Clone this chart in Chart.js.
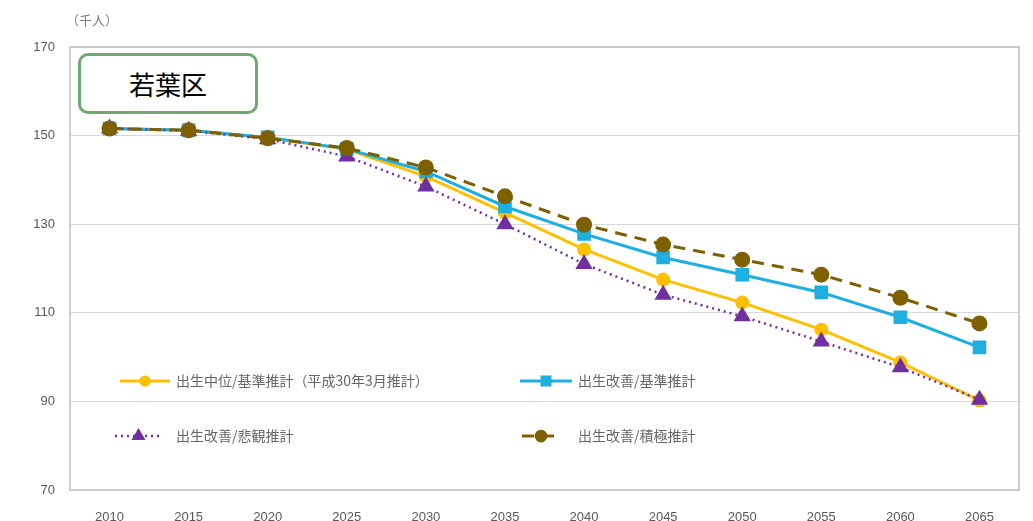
<!DOCTYPE html>
<html>
<head>
<meta charset="utf-8">
<title>若葉区</title>
<style>
body { margin: 0; padding: 0; background: #fff; }
#wrap { position: relative; width: 1033px; height: 521px; }
#unit { position: absolute; left: 66px; top: 10px; font: 13px "Noto Sans CJK JP", sans-serif; color: #7f7f7f; }
#ward { position: absolute; left: 78px; top: 53px; width: 174px; height: 55px; border: 3px solid #72a672; border-radius: 10px;
	font: 26px "Noto Sans CJK JP", sans-serif; color: #000; text-align: center; line-height: 55px; background: #fff; z-index: 2; }
</style>
<script src="https://cdn.jsdelivr.net/npm/chart.js@4.4.0/dist/chart.umd.min.js"></script>
</head>
<body>
<div id="wrap">
	<canvas id="c" width="1033" height="521"></canvas>
	<div id="unit">（千人）</div>
	<div id="ward">若葉区</div>
</div>
<script>
var years = ['2010','2015','2020','2025','2030','2035','2040','2045','2050','2055','2060','2065'];
var labels = ['出生中位/基準推計（平成30年3月推計）', '出生改善/基準推計', '出生改善/悲観推計', '出生改善/積極推計'];
var baseMid = [151.6, 151.2, 149.5, 146.9, 140.8, 132.6, 124.3, 117.5, 112.3, 106.2, 98.8, 90.2];
var improvedBase = [151.6, 151.2, 149.6, 147.0, 141.9, 134.0, 127.8, 122.5, 118.6, 114.6, 109.0, 102.2];
var improvedLow = [151.6, 151.1, 149.2, 145.3, 138.5, 130.0, 121.0, 114.1, 109.2, 103.5, 97.7, 90.4];
var improvedHigh = [151.6, 151.2, 149.4, 147.2, 142.8, 136.3, 129.9, 125.4, 122.0, 118.6, 113.4, 107.6];

// legend drawn inside the plot, two rows
var legendPlugin = {
	id: 'inlegend',
	afterDatasetsDraw: function(chart) {
		var ctx = chart.ctx;
		var items = [
			{ds: 0, x1: 120, x2: 170, y: 381, tx: 176},
			{ds: 1, x1: 520, x2: 572, y: 381, tx: 578},
			{ds: 2, x1: 115, x2: 162, y: 436, tx: 176},
			{ds: 3, x1: 522, x2: 560, y: 436, tx: 578}
		];
		items.forEach(function(it) {
			var d = chart.data.datasets[it.ds];
			ctx.save();
			ctx.strokeStyle = d.borderColor;
			ctx.lineWidth = d.borderWidth;
			ctx.setLineDash(d.borderDash || []);
			ctx.beginPath();
			ctx.moveTo(it.x1, it.y);
			ctx.lineTo(it.x2, it.y);
			ctx.stroke();
			ctx.setLineDash([]);
			ctx.fillStyle = d.backgroundColor;
			ctx.strokeStyle = d.backgroundColor;
			Chart.helpers.drawPoint(ctx, {pointStyle: d.pointStyle, radius: d.pointRadius * 0.75, borderWidth: 1}, (it.x1 + it.x2) / 2, it.y);
			ctx.fillStyle = '#666666';
			ctx.font = '14px "Noto Sans CJK JP", sans-serif';
			ctx.textBaseline = 'middle';
			ctx.fillText(labels[it.ds], it.tx, it.y);
			ctx.restore();
		});
	},
	beforeDatasetsDraw: function(chart) {
		var a = chart.chartArea, ctx = chart.ctx;
		ctx.save();
		ctx.strokeStyle = '#bfbfbf';
		ctx.lineWidth = 1.5;
		ctx.strokeRect(a.left, a.top, a.right - a.left, a.bottom - a.top);
		ctx.restore();
	}
};

new Chart(document.getElementById('c'), {
	type: 'line',
	data: {
		labels: years,
		datasets: [{
			label: labels[0],
			data: baseMid,
			borderColor: '#ffc000',
			backgroundColor: '#ffc000',
			borderWidth: 3,
			pointStyle: 'circle',
			pointRadius: 5.5,
			order: 4
		}, {
			label: labels[1],
			data: improvedBase,
			borderColor: '#1eaee0',
			backgroundColor: '#1eaee0',
			borderWidth: 3,
			pointStyle: 'rect',
			pointRadius: 7.5,
			order: 3
		}, {
			label: labels[2],
			data: improvedLow,
			borderColor: '#7030a0',
			backgroundColor: '#7030a0',
			borderWidth: 2.5,
			borderDash: [2, 4],
			pointStyle: 'triangle',
			pointRadius: 7.5,
			order: 2
		}, {
			label: labels[3],
			data: improvedHigh,
			borderColor: '#7f6000',
			backgroundColor: '#7f6000',
			borderWidth: 3,
			borderDash: [12, 8],
			pointStyle: 'circle',
			pointRadius: 6.5,
			order: 1
		}]
	},
	options: {
		responsive: false,
		animation: false,
		layout: { padding: { top: 47, right: 14, left: 0, bottom: 0 } },
		elements: { line: { tension: 0 }, point: { borderWidth: 0, hoverRadius: 7 } },
		plugins: { legend: { display: false }, tooltip: { enabled: false } },
		scales: {
			x: {
				offset: true,
				grid: { display: false },
				border: { display: false },
				ticks: { color: '#595959', font: { family: '"Liberation Sans Narrow", "Liberation Sans", sans-serif', size: 13 }, padding: 12, maxRotation: 0 },
				afterFit: function(s) { s.height = 31; }
			},
			y: {
				min: 70,
				max: 170,
				ticks: { stepSize: 20, color: '#595959', font: { family: '"Liberation Sans Narrow", "Liberation Sans", sans-serif', size: 13 }, padding: 15 },
				grid: { color: '#d9d9d9', drawTicks: false, lineWidth: 1 },
				border: { display: false },
				afterFit: function(s) { s.width = 70; }
			}
		}
	},
	plugins: [legendPlugin]
});
</script>
</body>
</html>
